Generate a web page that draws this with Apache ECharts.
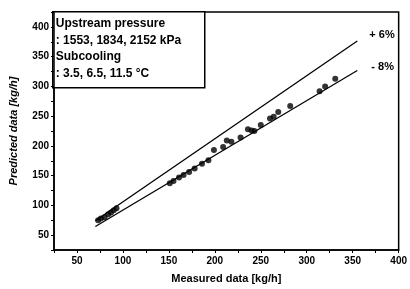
<!DOCTYPE html>
<html>
<head>
<meta charset="utf-8">
<script src="https://cdn.jsdelivr.net/npm/echarts@6/dist/echarts.min.js"></script>
<style>
  html, body { margin: 0; padding: 0; background: #fff; }
  #chart { width: 410px; height: 289px; }
</style>
</head>
<body>
<div id="chart"></div>
<script>
// measured vs predicted flow rate, kg/h
var measured = [73, 76, 80, 84, 87, 90, 93, 151, 155, 161, 166, 172, 178, 186, 193,
  199, 209, 213, 218, 228, 236, 240, 243, 250, 260, 264, 269, 282, 314, 320, 331];
var predicted = [75, 78, 80, 85, 88, 92, 95, 137, 141, 147, 151, 156, 162, 170, 176,
  193, 198, 209, 207, 214, 228, 226, 225, 235, 246, 249, 257, 267, 292, 300, 313];

// error band lines (+6% / -8%)
var bandRange = [70, 355];
var bandNames = ['+ 6%', '- 8%'];
var bandFactors = [1.06, 0.92];

var legendLines = ['Upstream pressure', ': 1553, 1834, 2152 kPa', 'Subcooling', ': 3.5, 6.5, 11.5 \u00B0C'];

var font = 'Liberation Sans, Arial, sans-serif';

var points = measured.map(function (m, i) { return [m, predicted[i]]; });

var bandSeries = bandFactors.map(function (f, i) {
  return {
    name: bandNames[i],
    type: 'line',
    symbol: 'none',
    silent: true,
    lineStyle: { color: '#000', width: 1.3 },
    data: bandRange.map(function (x) { return [x, x * f]; }),
    endLabel: {
      show: true,
      formatter: bandNames[i],
      color: '#000',
      fontFamily: font,
      fontWeight: 'bold',
      fontSize: 11,
      offset: i === 0 ? [4, -6] : [6, -4]
    }
  };
});

var myChart = echarts.init(document.getElementById('chart'));

var option = {
  backgroundColor: '#fff',
  animation: false,
  grid: {
    left: 48, right: 8, top: 12, bottom: 39,
    show: true,
    borderColor: '#000',
    borderWidth: 1.5
  },
  xAxis: {
    type: 'value',
    min: 25, max: 400,
    interval: 25,
    name: 'Measured data [kg/h]',
    nameLocation: 'middle',
    nameGap: 23,
    nameTextStyle: { color: '#000', fontFamily: font, fontWeight: 'bold', fontSize: 11 },
    axisLine: { lineStyle: { color: '#000', width: 1.5 } },
    axisTick: { inside: false, length: 3, lineStyle: { color: '#000' } },
    axisLabel: {
      color: '#000', fontFamily: font, fontWeight: 'bold', fontSize: 10, margin: 6,
      formatter: function (v) { return v % 50 === 0 ? v : ''; }
    },
    splitLine: { show: false }
  },
  yAxis: {
    type: 'value',
    min: 25, max: 425,
    interval: 25,
    name: 'Predicted data [kg/h]',
    nameLocation: 'middle',
    nameGap: 35,
    nameTextStyle: { color: '#000', fontFamily: font, fontWeight: 'bold', fontStyle: 'italic', fontSize: 11 },
    axisLine: { lineStyle: { color: '#000', width: 1.5 } },
    axisTick: { inside: false, length: 3, lineStyle: { color: '#000' } },
    axisLabel: {
      color: '#000', fontFamily: font, fontWeight: 'bold', fontSize: 10, margin: 5,
      formatter: function (v) { return (v % 50 === 0 && v <= 400) ? v : ''; }
    },
    splitLine: { show: false }
  },
  graphic: [{
    type: 'group',
    left: 52,
    top: 11,
    children: [{
      type: 'rect',
      shape: { x: 0, y: 0, width: 152, height: 76 },
      style: { fill: '#fff', stroke: '#000', lineWidth: 1.5 }
    }, {
      type: 'text',
      x: 3, y: 4,
      style: {
        text: legendLines.join('\n'),
        fill: '#000',
        font: 'bold 12px ' + font,
        lineHeight: 16.5
      }
    }]
  }],
  series: bandSeries.concat([{
    name: 'data',
    type: 'scatter',
    symbolSize: 6,
    itemStyle: { color: '#000' },
    data: points,
    z: 5
  }])
};

myChart.setOption(option);
</script>
</body>
</html>
